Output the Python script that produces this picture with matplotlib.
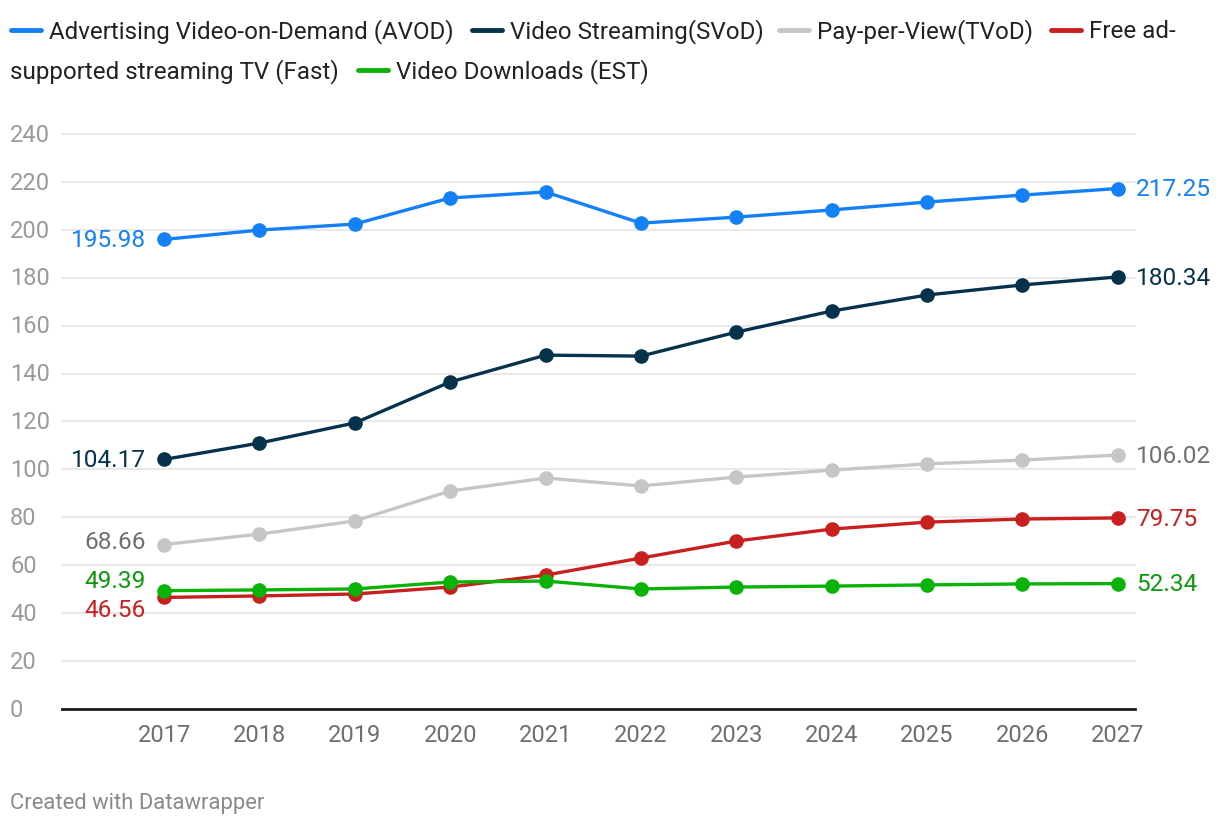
import matplotlib
matplotlib.use("Agg")
import matplotlib.pyplot as plt
import matplotlib.transforms as mtrans

plt.rcParams["font.family"] = ["Roboto", "DejaVu Sans"]

# DATA
years = [2017, 2018, 2019, 2020, 2021, 2022, 2023, 2024, 2025, 2026, 2027]
avod = [195.98, 199.9, 202.4, 213.3, 215.8, 202.8, 205.3, 208.3, 211.6, 214.5, 217.25]
svod = [104.17, 111.0, 119.4, 136.5, 147.7, 147.3, 157.3, 166.1, 172.8, 177.0, 180.34]
tvod = [68.66, 73.0, 78.5, 91.0, 96.4, 93.1, 96.8, 99.7, 102.3, 103.9, 106.02]
fast = [46.56, 47.2, 48.0, 50.9, 55.9, 63.0, 70.1, 75.1, 78.0, 79.3, 79.75]
est = [49.39, 49.7, 50.1, 53.0, 53.4, 50.1, 50.9, 51.3, 51.8, 52.2, 52.34]
yticks = [0, 20, 40, 60, 80, 100, 120, 140, 160, 180, 200, 220, 240]

# name, values, line colour, label colour, left label offset (px, + is down)
series = [
    ("avod", avod, "#1380f5", "#1380f5", 0),
    ("svod", svod, "#06324b", "#06324b", 0),
    ("tvod", tvod, "#c6c6c6", "#707070", -4),
    ("fast", fast, "#c91f1f", "#c91f1f", 12),
    ("est", est, "#0ab20a", "#0c9a0c", -11),
]

W, H = 1220, 826
fig = plt.figure(figsize=(W / 100, H / 100), dpi=100)
ax = fig.add_axes([62 / W, (H - 709) / H, (1135 - 62) / W, (709 - 134) / H])
ax.set_xlim(2015.93, 2027.18)
ax.set_ylim(0, 240)
ax.axis("off")

for v in yticks:
    if v == 0:
        ax.axhline(v, color="#1a1a1a", lw=2, zorder=1, clip_on=False)
    else:
        ax.axhline(v, color="#e2e2e2", lw=1.1, zorder=0, clip_on=False)
    ax.text(10 / W, v - 0.5, str(v), transform=mtrans.blended_transform_factory(fig.transFigure, ax.transData),
            ha="left", va="center", fontsize=17, color="#9a9a9a")

for y in years:
    ax.text(y, -11.0, str(y), ha="center", va="center", fontsize=17, color="#6e6e6e")

for name, vals, col, lcol, off in series:
    ax.plot(years, vals, color=col, lw=2.4, marker="o", markersize=9.5, zorder=3, clip_on=False)
    ax.annotate("{:.2f}".format(vals[0]), (years[0], vals[0]), xytext=(-13, -(off + 1.5) * 0.72),
                textcoords="offset points", ha="right", va="center", fontsize=17.6, color=lcol)
    ax.annotate("{:.2f}".format(vals[-1]), (years[-1], vals[-1]), xytext=(13, -1),
                textcoords="offset points", ha="left", va="center", fontsize=17.6, color=lcol)

# legend drawn by hand (wraps like the original)
legend_rows = [
    (30, [(11, "#1380f5", "Advertising Video-on-Demand (AVOD)"),
          (472, "#06324b", "Video Streaming(SVoD)"),
          (779, "#c6c6c6", "Pay-per-View(TVoD)"),
          (1051, "#c91f1f", "Free ad-")]),
    (70, [(None, None, "supported streaming TV (Fast)"),
          (358, "#0ab20a", "Video Downloads (EST)")]),
]
for ly, items in legend_rows:
    ty = 1 - (ly + 1.5) / H
    for lx, col, txt in items:
        if lx is None:
            fig.text(10 / W, ty, txt, ha="left", va="center", fontsize=17.4, color="#222222")
            continue
        fig.add_artist(plt.Line2D([lx / W, (lx + 30) / W], [1 - ly / H, 1 - ly / H],
                                  color=col, lw=3.5, solid_capstyle="round"))
        fig.text((lx + 38) / W, ty, txt, ha="left", va="center", fontsize=17.4, color="#222222")

fig.text(10 / W, 1 - 803 / H, "Created with Datawrapper", ha="left", va="center",
         fontsize=15.8, color="#8a8a8a")

fig.savefig("out.png", dpi=100)
